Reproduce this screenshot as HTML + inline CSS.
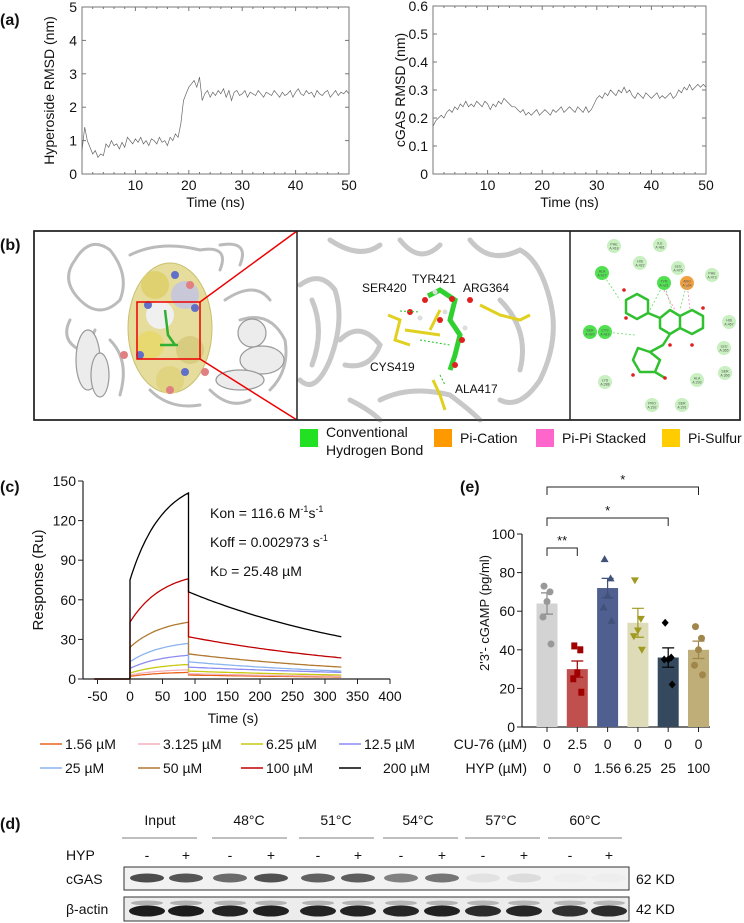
<!DOCTYPE html>
<html><head><meta charset="utf-8"><style>
body{margin:0;background:#fff}
svg{display:block;font-family:"Liberation Sans",Arial,sans-serif}
</style></head><body>
<svg id="fig" width="744" height="923" viewBox="0 0 744 923" xmlns="http://www.w3.org/2000/svg">
<g id="a"></g>
<g id="b"></g>
<g id="c"></g>
<g id="e"></g>
<g id="d"></g>
</svg>
<script>
// ---- Panel (a) data ----
const hypRmsd=[0.7,1.4,1.0,0.8,0.6,0.7,0.5,0.6,0.55,0.9,0.8,1.0,0.85,0.9,0.75,0.95,0.8,1.1,1.0,0.9,1.05,0.95,1.1,0.9,1.0,0.85,1.05,1.0,0.9,1.1,0.95,1.0,0.85,1.1,1.0,1.2,1.1,1.5,2.2,2.4,2.6,2.7,2.8,2.6,2.9,2.2,2.4,2.5,2.3,2.45,2.35,2.5,2.4,2.55,2.3,2.5,2.2,2.45,2.5,2.35,2.4,2.5,2.3,2.45,2.4,2.35,2.5,2.4,2.3,2.45,2.4,2.35,2.5,2.4,2.3,2.45,2.35,2.4,2.5,2.3,2.45,2.55,2.4,2.35,2.5,2.4,2.45,2.3,2.5,2.4,2.35,2.45,2.5,2.3,2.4,2.5,2.35,2.45,2.4,2.5,2.4];
const cgasRmsd=[0.17,0.19,0.2,0.21,0.2,0.22,0.23,0.22,0.24,0.23,0.25,0.24,0.26,0.24,0.25,0.24,0.26,0.25,0.24,0.26,0.25,0.23,0.25,0.24,0.26,0.25,0.27,0.26,0.25,0.24,0.24,0.23,0.22,0.23,0.21,0.22,0.21,0.22,0.23,0.21,0.22,0.23,0.22,0.21,0.23,0.22,0.23,0.24,0.22,0.23,0.24,0.23,0.22,0.24,0.23,0.22,0.24,0.22,0.23,0.25,0.27,0.28,0.27,0.29,0.28,0.3,0.29,0.28,0.3,0.29,0.31,0.29,0.3,0.28,0.27,0.29,0.28,0.27,0.29,0.28,0.27,0.28,0.29,0.27,0.28,0.27,0.28,0.29,0.27,0.28,0.3,0.29,0.31,0.3,0.32,0.3,0.31,0.32,0.31,0.32,0.31];
const aXTicks=[10,20,30,40,50];
const hypYTicks=[0,1,2,3,4,5];
const cgasYTicks=[0,0.1,0.2,0.3,0.4,0.5,0.6];
// ---- Panel (c) data ----
const sprConc=["1.56 µM","3.125 µM","6.25 µM","12.5 µM","25 µM","50 µM","100 µM","200 µM"];
const sprStart=[2,3,4.5,8,13,24,43,75];
const sprPeak=[5,7,11,18,27,43,76,141];
const sprDissStart=[3,4,6,9,13,19,32,66];
const sprEnd=[1.5,2,3,5,6,9,16,32];
const sprXTicks=[-50,0,50,100,150,200,250,300,350,400];
const sprYTicks=[0,30,60,90,120,150];
// ---- Panel (e) data ----
const eGroups=["g1","g2","g3","g4","g5","g6"];
const cu76=["0","2.5","0","0","0","0"];
const hypConc=["0","0","1.56","6.25","25","100"];
const eMeans=[64,30,72,54,36,40];
const eSem=[5.5,4.2,5,7.5,5,4.5];
const ePoints=[[73,70,65,57,43],[42,40,28,25,18],[87,77,68,62,55],[76,56,50,47,40],[54,36,35,35,22],[52,46,40,32,27]];
const eYTicks=[0,20,40,60,80,100];
// ---- Panel (d) data ----
const tempLabels=["Input","48°C","51°C","54°C","57°C","60°C"];
const cgasBand=[0.8,0.75,0.65,0.78,0.7,0.72,0.55,0.6,0.08,0.1,0.02,0.02];
const actinBand=[0.95,0.95,0.92,0.93,0.92,0.92,0.9,0.93,0.88,0.9,0.85,0.88];

const NS="http://www.w3.org/2000/svg";
function mk(parent,tag,attrs,text){const e=document.createElementNS(NS,tag);for(const k in attrs)e.setAttribute(k,attrs[k]);if(text!==undefined)e.textContent=text;parent.appendChild(e);return e;}
function tx(p,x,y,s,size,anchor,name,extra){const t=mk(p,'text',Object.assign({x:x,y:y,'font-size':size,'text-anchor':anchor||'start',fill:'#111'},extra||{}),s);


return t;}

// ===== Panel A =====
const A=document.getElementById('a');
tx(A,0,25,'(a)',16,'start','panel-a-label',{'font-weight':'bold'});
function rmsdPlot(x0,x1,y0,y1,ymax,ticks,data,title,fmt,nm){
  const sx=v=>x0+(v/50)*(x1-x0), sy=v=>y0-(v/ymax)*(y0-y1);
  const g=mk(A,'g',{});
  
  
  mk(g,'rect',{x:x0,y:y1,width:x1-x0,height:y0-y1,fill:'none',stroke:'#777','stroke-width':1});
  for(let i=0;i<=25;i++){const xv=sx(i*2);mk(g,'line',{x1:xv,x2:xv,y1:y0,y2:y0-(i%5==0?4:2),stroke:'#777'});mk(g,'line',{x1:xv,x2:xv,y1:y1,y2:y1+(i%5==0?4:2),stroke:'#777'});}
  ticks.forEach(t=>{const yv=sy(t);mk(g,'line',{x1:x0,x2:x0+4,y1:yv,y2:yv,stroke:'#777'});mk(g,'line',{x1:x1,x2:x1-4,y1:yv,y2:yv,stroke:'#777'});
    tx(g,x0-5,yv+5,fmt(t),14,'end','y-tick-label');});
  aXTicks.forEach(t=>tx(g,sx(t),190,String(t),14,'middle','x-tick-label'));
  let d='';data.forEach((v,i)=>{d+=(i?'L':'M')+sx(i*50/(data.length-1)).toFixed(1)+','+sy(v).toFixed(1);});
  const p=mk(g,'path',{d:d,fill:'none',stroke:'#666','stroke-width':0.7});
  
  
  tx(g,(x0+x1)/2,207,'Time (ns)',14,'middle','x-axis-title');
  tx(g,0,0,title,14,'middle','y-axis-title',{transform:`translate(${x0-28},${(y0+y1)/2}) rotate(-90)`});
}
rmsdPlot(82,349,174,7,5,hypYTicks,hypRmsd,'Hyperoside RMSD (nm)',v=>String(v),'hyperoside-rmsd-chart');
rmsdPlot(433,706,174,6,0.6,cgasYTicks,cgasRmsd,'cGAS RMSD (nm)',v=>v===0?'0':v.toFixed(1),'cgas-rmsd-chart');

// ===== Panel B =====
const B=document.getElementById('b');
tx(B,0,250,'(b)',16,'start','panel-b-label',{'font-weight':'bold'});
mk(B,'rect',{x:34,y:231,width:706,height:189,fill:'#fff',stroke:'#222','stroke-width':1.5});
// image 1 ribbons (thin outlines)
const ribStroke={fill:'none',stroke:'#bbb','stroke-width':3,'stroke-linecap':'round'};
mk(B,'path',Object.assign({d:'M75 260 Q90 235 110 250 Q130 275 120 300 Q100 320 80 300 Q60 280 75 260 M130 255 Q160 240 200 250 Q230 245 220 270 M220 245 Q250 240 240 265 M95 330 Q80 360 95 390 M110 340 Q130 360 120 395 M225 300 Q255 280 270 300 M240 320 Q270 310 285 340 Q290 370 270 390 M210 390 Q230 410 250 400 M150 390 Q170 410 200 405 M70 320 Q60 340 80 350'},ribStroke));
[[88,360,12,30],[252,333,14,14],[262,360,22,14],[240,380,24,10],[100,375,9,22]].forEach(r=>mk(B,'ellipse',{cx:r[0],cy:r[1],rx:r[2],ry:r[3],fill:'#ececec',stroke:'#999','stroke-width':1.2}));
mk(B,'ellipse',{cx:170,cy:328,rx:42,ry:65,fill:'#e6dc9c',stroke:'#c8c070','stroke-width':1});
[[155,285,'#dfd170'],[185,295,'#c8c8d8'],[150,345,'#e8d870'],[190,350,'#d8cc80'],[170,380,'#e0d480'],[160,315,'#f0f0f0']].forEach(p=>mk(B,'circle',{cx:p[0],cy:p[1],r:14,fill:p[2]}));
[[148,305],[195,308],[140,355],[185,372],[175,275]].forEach(p=>mk(B,'circle',{cx:p[0],cy:p[1],r:4,fill:'#6070c8'}));
[[124,355],[205,372],[190,285],[170,390]].forEach(p=>mk(B,'circle',{cx:p[0],cy:p[1],r:4,fill:'#e08080'}));
mk(B,'path',{d:'M165 310 L168 335 L175 345 M160 345 L178 345',stroke:'#30b030','stroke-width':2.5,fill:'none'});
mk(B,'rect',{x:137,y:302,width:63,height:57,fill:'none',stroke:'#e00','stroke-width':1.5});
mk(B,'line',{x1:200,y1:302,x2:297,y2:231,stroke:'#e00','stroke-width':1.5});
mk(B,'line',{x1:200,y1:359,x2:297,y2:420,stroke:'#e00','stroke-width':1.5});
// image 2
mk(B,'path',Object.assign({d:'M300 285 Q320 270 335 290 Q345 320 330 360 Q315 395 300 380 M312 300 Q325 330 312 365 M340 340 Q360 320 380 345 Q370 370 345 365 M330 240 Q360 260 380 245 M400 240 Q420 265 440 245 M470 240 Q490 265 520 250 Q540 260 550 300 Q560 340 540 380 Q520 410 500 400 M500 300 Q530 330 520 370 M380 400 Q410 385 450 395 Q470 410 480 420 M350 400 Q370 410 380 420'},{fill:'none',stroke:'#c8c8c8','stroke-width':5,'stroke-linecap':'round'}));
mk(B,'path',{d:'M428 296 L440 290 L455 300 L450 320 L460 335 L455 355 L450 370',stroke:'#30d030','stroke-width':5,fill:'none'});
mk(B,'path',{d:'M388 315 L400 320 L395 340 L410 345 M405 330 L440 335 M440 310 L430 330 M480 305 L500 315 L520 320 L530 315 M433 380 L440 395 L445 410',stroke:'#e0d020','stroke-width':3,fill:'none'});
[[425,300],[452,299],[440,320],[462,340],[455,365],[410,312],[470,300]].forEach(p=>mk(B,'circle',{cx:p[0],cy:p[1],r:3,fill:'#e02020'}));
[[435,292],[445,312],[420,318],[465,328]].forEach(p=>mk(B,'circle',{cx:p[0],cy:p[1],r:2.5,fill:'#ddd'}));
mk(B,'path',{d:'M400 311 L420 312 M420 340 L450 345 M440 375 L445 385',stroke:'#20c020','stroke-width':1,'stroke-dasharray':'2 2',fill:'none'});
tx(B,362,292,'SER420',12,'start','residue-label');tx(B,412,283,'TYR421',12,'start','residue-label');tx(B,463,292,'ARG364',12,'start','residue-label');
tx(B,370,371,'CYS419',12,'start','residue-label');tx(B,455,393,'ALA417',12,'start','residue-label');
// image 3
const res=[[614,246,'PHE','A:418'],[660,245,'ILE','A:481'],[640,263,'HIS','A:422'],[678,268,'LEU','A:475'],[712,275,'PHE','A:473'],[602,273,'ALA','A:417'],[664,283,'TYR','A:421'],[687,283,'ARG','A:364'],[729,322,'HIS','A:467'],[590,332,'SER','A:420'],[605,332,'CYS','A:419'],[724,348,'LEU','A:365'],[725,373,'SER','A:366'],[605,382,'LYS','A:288'],[697,380,'ALA','A:293'],[652,405,'PRO','A:292'],[682,405,'SER','A:291']];
res.forEach(p=>{let f='#c8f0c0';if(p[3]==='A:364')f='#f0a040';else if(['A:417','A:421','A:420','A:419'].includes(p[3]))f='#50e050';
  const c=mk(B,'circle',{cx:p[0],cy:p[1],r:7,fill:f});
  mk(B,'text',{x:p[0],y:p[1]-0.5,'font-size':3.5,'text-anchor':'middle',fill:'#555'},p[2]);mk(B,'text',{x:p[0],y:p[1]+3.5,'font-size':3.5,'text-anchor':'middle',fill:'#555'},p[3]);});
mk(B,'path',{d:'M602 273 L620 300 M664 283 L650 310 M687 283 L680 310 M664 283 L672 310 M605 332 L635 335',stroke:'#60e060','stroke-width':0.8,'stroke-dasharray':'2 2',fill:'none'});
mk(B,'path',{d:'M687 283 L690 310 M664 290 L675 310',stroke:'#ff80c0','stroke-width':0.8,'stroke-dasharray':'2 2',fill:'none'});
mk(B,'path',{d:'M626 300 L637 294 L648 300 L648 313 L637 319 L626 313 Z M648 313 L660 318 M660 318 L670 310 L680 316 L680 328 L670 334 L660 328 Z M680 316 L692 310 L703 316 L703 328 L692 334 L680 328 M670 334 L663 345 L650 352 L638 348 L633 360 L640 372 L655 372 L660 360 L650 352 M655 372 L665 378',stroke:'#30c030','stroke-width':2.5,fill:'none','stroke-linejoin':'round'});
[[624,290],[626,318],[703,308],[670,345],[692,345],[633,375],[665,378]].forEach(p=>mk(B,'circle',{cx:p[0],cy:p[1],r:1.8,fill:'#e02020'}));
// legend
const legB=[['Conventional',300,'#22e022'],['Pi-Cation',434,'#ff9900'],['Pi-Pi Stacked',536,'#ff66cc'],['Pi-Sulfur',662,'#ffcc00']];
legB.forEach(l=>{const r=mk(B,'rect',{x:l[1],y:429,width:18,height:18,fill:l[2]});
 tx(B,l[1]+26,l[0]==='Conventional'?437:443,l[0],14,'start','interaction-legend-label');});
tx(B,326,455,'Hydrogen Bond',14,'start','interaction-legend-label');
mk(B,'line',{x1:297,x2:297,y1:231,y2:420,stroke:'#222','stroke-width':1.5});
mk(B,'line',{x1:570,x2:570,y1:231,y2:420,stroke:'#222','stroke-width':1.5});
mk(B,'rect',{x:34,y:231,width:706,height:189,fill:'none',stroke:'#222','stroke-width':1.5});

// ===== Panel C =====
const C=document.getElementById('c');
tx(C,0,492,'(c)',16,'start','panel-c-label',{'font-weight':'bold'});
const cx=v=>130+(v/50)*32.5, cy=v=>679-(v/150)*198;
mk(C,'line',{x1:83,x2:83,y1:481,y2:679,stroke:'#222','stroke-width':1.2});
mk(C,'line',{x1:83,x2:390,y1:679,y2:679,stroke:'#222','stroke-width':1.2});
sprYTicks.forEach(t=>{mk(C,'line',{x1:78,x2:83,y1:cy(t),y2:cy(t),stroke:'#222'});tx(C,76,cy(t)+5,String(t),14,'end','y-tick-label');});
sprXTicks.forEach(t=>{mk(C,'line',{x1:cx(t),x2:cx(t),y1:679,y2:684,stroke:'#222'});tx(C,cx(t),701,String(t),14,'middle','x-tick-label');});
tx(C,233,723,'Time (s)',14,'middle','x-axis-title');
tx(C,0,0,'Response (Ru)',15,'middle','y-axis-title',{transform:'translate(43,580) rotate(-90)'});
const sprColors=['#e8641b','#f4b0bc','#c8c810','#8c8cf0','#8ab4f0','#b07830','#c00000','#000'];
sprConc.forEach((c,i)=>{
  const k=0.02;let d=`M${cx(-55)},${cy(0)} L${cx(0)},${cy(0)}`;
  for(let t=0;t<=90;t+=3){const v=sprStart[i]+(sprPeak[i]-sprStart[i])*(1-Math.exp(-k*t))/(1-Math.exp(-k*90));d+=` L${cx(t).toFixed(1)},${cy(v).toFixed(1)}`;}
  for(let t=90;t<=325;t+=5){const v=sprDissStart[i]*Math.pow(sprEnd[i]/sprDissStart[i],(t-90)/235);d+=` L${cx(t).toFixed(1)},${cy(v).toFixed(1)}`;}
  const p=mk(C,'path',{d:d,fill:'none',stroke:sprColors[i],'stroke-width':1.3});
  
  
});
tx(C,210,518,'Kon = 116.6 M',14,'start','kon-annotation').innerHTML='Kon = 116.6 M<tspan dy="-6" font-size="9">-1</tspan><tspan dy="6">s</tspan><tspan dy="-6" font-size="9">-1</tspan>';
tx(C,210,547,'',14,'start','koff-annotation').innerHTML='Koff = 0.002973 s<tspan dy="-6" font-size="9">-1</tspan>';
tx(C,210,576,'',14,'start','kd-annotation').innerHTML='K<tspan font-size="11">D</tspan> = 25.48 µM';
const legX=[40,138,241,339];
sprConc.forEach((c,i)=>{const x=legX[i%4],y=i<4?744:768;
  const l=mk(C,'line',{x1:x,x2:x+22,y1:y,y2:y,stroke:sprColors[i],'stroke-width':1.5});
  
  tx(C,x+(i==7?44:25),y+5,c,14,'start','legend-entry');});

// ===== Panel E =====
const E=document.getElementById('e');
tx(E,460,492,'(e)',16,'start','panel-e-label',{'font-weight':'bold'});
const ey=v=>727-(v/100)*193, ex=i=>547+i*30.3;
mk(E,'line',{x1:522,x2:522,y1:534,y2:727,stroke:'#222','stroke-width':1.2});
mk(E,'line',{x1:522,x2:710,y1:727,y2:727,stroke:'#222','stroke-width':1.2});
eYTicks.forEach(t=>{mk(E,'line',{x1:517,x2:522,y1:ey(t),y2:ey(t),stroke:'#222'});tx(E,515,ey(t)+5,String(t),14,'end','y-tick-label');});
tx(E,0,0,"2'3'- cGAMP  (pg/ml)",13,'middle','y-axis-title',{transform:'translate(489,613) rotate(-90)'});
const barCol=['#d3d3d3','#c0504d','#4f5f8f','#dedcb8','#34495e','#bfae78'];
const ptCol=['#999','#a00000','#3f527a','#a09a20','#000','#a0864a'];
eGroups.forEach((g,i)=>{
  const x=ex(i);
  const r=mk(E,'rect',{x:x-10.5,y:ey(eMeans[i]),width:21,height:ey(0)-ey(eMeans[i]),fill:barCol[i]});
  
  mk(E,'line',{x1:x,x2:x,y1:727,y2:732,stroke:'#222'});
  const ec=i==0?'#888':ptCol[i];
  mk(E,'path',{d:`M${x} ${ey(eMeans[i]-eSem[i])}V${ey(eMeans[i]+eSem[i])}M${x-6} ${ey(eMeans[i]+eSem[i])}H${x+6}M${x-6} ${ey(eMeans[i]-eSem[i])}H${x+6}`,stroke:ec,'stroke-width':1.2,fill:'none'});
  ePoints[i].forEach((v,j)=>{const px=x+[-3,3,0,-4,4][j],py=ey(v);let p;
    if(i==0||i==5)p=mk(E,'circle',{cx:px,cy:py,r:3.5,fill:ptCol[i]});
    else if(i==1)p=mk(E,'rect',{x:px-3,y:py-3.5,width:6,height:7,fill:ptCol[i]});
    else if(i==2)p=mk(E,'path',{d:`M${px} ${py-4}L${px+4} ${py+3}L${px-4} ${py+3}Z`,fill:ptCol[i]});
    else if(i==3)p=mk(E,'path',{d:`M${px-4} ${py-3}L${px+4} ${py-3}L${px} ${py+4}Z`,fill:ptCol[i]});
    else p=mk(E,'path',{d:`M${px} ${py-4}L${px+3.5} ${py}L${px} ${py+4}L${px-3.5} ${py}Z`,fill:ptCol[i]});
    });
  tx(E,x,749,cu76[i],14,'middle','cu76-value');
  tx(E,x,773,hypConc[i],14,'middle','hyp-value');
});
tx(E,527,749,'CU-76 (µM)',14,'end','cu76-row-label');
tx(E,527,773,'HYP (µM)',14,'end','hyp-row-label');
function brk(a,b,y,s,nm){const g=mk(E,'g',{});
  mk(g,'path',{d:`M${ex(a)} ${y+8}V${y}H${ex(b)}V${y+8}`,stroke:'#222',fill:'none','stroke-width':1});
  tx(g,(ex(a)+ex(b))/2,y-3,s,13,'middle','significance-star');}
brk(0,5,487,'*','significance-bracket-1-6');
brk(0,4,518,'*','significance-bracket-1-5');
brk(0,1,548,'**','significance-bracket-1-2');

// ===== Panel D =====
const D=document.getElementById('d');
tx(D,0,829,'(d)',16,'start','panel-d-label',{'font-weight':'bold'});
const hdrX=[160,249,336,418,501,585],ulS=[122,212,299,383,465,548],ulE=[197,287,374,458,540,622];
tempLabels.forEach((t,i)=>{tx(D,hdrX[i],825,t,14,'middle','temperature-header');
  mk(D,'line',{x1:ulS[i],x2:ulE[i],y1:838,y2:838,stroke:'#999','stroke-width':1.2});});
tx(D,66,860,'HYP',14,'start','hyp-row-label');
const laneX=[147,186,230,271,318,358,401,442,483,524,570,609];
laneX.forEach((x,i)=>tx(D,x,860,i%2?'+':'-',14,'middle','hyp-sign'));
mk(D,'rect',{x:124,y:867,width:505,height:23,fill:'#f2f2f2',stroke:'#333','stroke-width':1});
mk(D,'rect',{x:124,y:897,width:505,height:24,fill:'#ececec',stroke:'#333','stroke-width':1});
laneX.forEach((x,i)=>{
  const a=mk(D,'ellipse',{cx:x,cy:878,rx:17,ry:4.5,fill:'#222','fill-opacity':cgasBand[i]});
  
  mk(D,'ellipse',{cx:x,cy:903,rx:16,ry:2.5,fill:'#555','fill-opacity':actinBand[i]*0.4});
  const b=mk(D,'ellipse',{cx:x,cy:911,rx:18,ry:5.5,fill:'#111','fill-opacity':actinBand[i]});
  
});
tx(D,66,884,'cGAS',14,'start','cgas-row-label');
tx(D,66,914,'β-actin',14,'start','actin-row-label');
tx(D,636,884,'62 KD',14,'start','cgas-mw-label');
tx(D,636,914,'42 KD',14,'start','actin-mw-label');
</script>
</body></html>
